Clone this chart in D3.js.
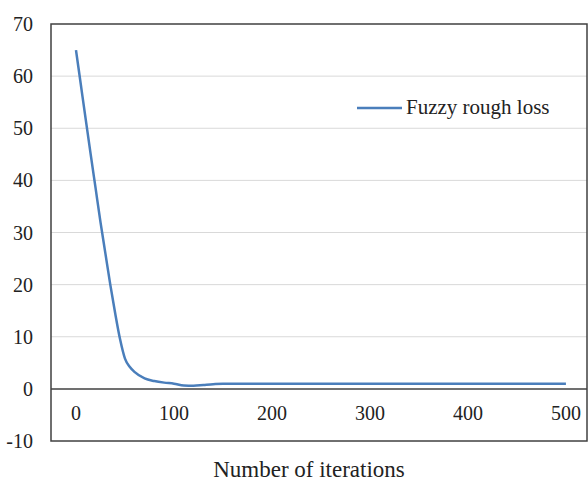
<!DOCTYPE html>
<html>
<head>
<meta charset="utf-8">
<script src="https://cdn.jsdelivr.net/npm/d3@7/dist/d3.min.js"></script>
<style>
  html, body { margin: 0; padding: 0; background: #fff; }
  svg { display: block; }
  text { font-family: "Liberation Serif", "Times New Roman", serif; fill: #222; }
</style>
</head>
<body>
<svg id="chart" width="588" height="483"></svg>
<script>
const iterations = [0, 5, 10, 15, 20, 25, 30, 35, 40, 45, 50, 55, 60, 70, 80, 90, 100, 110, 120, 130, 140, 150, 200, 250, 300, 350, 400, 450, 500];
const loss = [65, 58.3, 51.6, 45, 38.5, 32, 26, 20, 14.5, 9.5, 5.8, 4.2, 3.2, 2.0, 1.5, 1.2, 1.0, 0.65, 0.6, 0.75, 0.9, 1.0, 1.0, 1.0, 1.0, 1.0, 1.0, 1.0, 1.0];
const yTicks = [-10, 0, 10, 20, 30, 40, 50, 60, 70];
const xTicks = [0, 100, 200, 300, 400, 500];
const seriesName = "Fuzzy rough loss";
const xTitle = "Number of iterations";

const svg = d3.select("#chart");
const pL = 51, pR = 587, pT = 24, pB = 441;

const x = d3.scaleLinear().domain([-25.5, 521.5]).range([pL, pR]);
const y = d3.scaleLinear().domain([-10, 70]).range([pB, pT]);

// gridlines
svg.append("g").selectAll("line")
  .data(yTicks.filter(v => v > 0 && v < 70))
  .join("line")
  .attr("x1", pL).attr("x2", pR)
  .attr("y1", d => y(d)).attr("y2", d => y(d))
  .attr("stroke", "#d9d9d9").attr("stroke-width", 1);

// frame
svg.append("rect")
  .attr("x", pL).attr("y", pT)
  .attr("width", pR - pL).attr("height", pB - pT)
  .attr("fill", "none").attr("stroke", "#404040").attr("stroke-width", 1.5);

// zero axis
svg.append("line")
  .attr("x1", pL).attr("x2", pR)
  .attr("y1", y(0)).attr("y2", y(0))
  .attr("stroke", "#404040").attr("stroke-width", 1.5);

// y tick labels
svg.append("g").selectAll("text")
  .data(yTicks).join("text")
  .attr("x", 33).attr("y", d => y(d))
  .attr("dy", "0.35em")
  .attr("text-anchor", "end")
  .attr("font-size", 20)
  .text(d => d);

// x tick labels
svg.append("g").selectAll("text")
  .data(xTicks).join("text")
  .attr("x", d => x(d)).attr("y", 420)
  .attr("text-anchor", "middle")
  .attr("font-size", 20)
  .text(d => d);

// line
const data = iterations.map((v, i) => ({ x: v, y: loss[i] }));
svg.append("path")
  .datum(data)
  .attr("fill", "none")
  .attr("stroke", "#4a7ebb")
  .attr("stroke-width", 2.5)
  .attr("stroke-linejoin", "round")
  .attr("d", d3.line().x(d => x(d.x)).y(d => y(d.y)).curve(d3.curveMonotoneX));

// legend
svg.append("line")
  .attr("x1", 357).attr("x2", 402).attr("y1", 108).attr("y2", 108)
  .attr("stroke", "#4a7ebb").attr("stroke-width", 2.5);
svg.append("text")
  .attr("x", 406).attr("y", 114)
  .attr("font-size", 21)
  .text(seriesName);

// x title
svg.append("text")
  .attr("x", 309).attr("y", 477)
  .attr("text-anchor", "middle")
  .attr("font-size", 23)
  .text(xTitle);
</script>
</body>
</html>
